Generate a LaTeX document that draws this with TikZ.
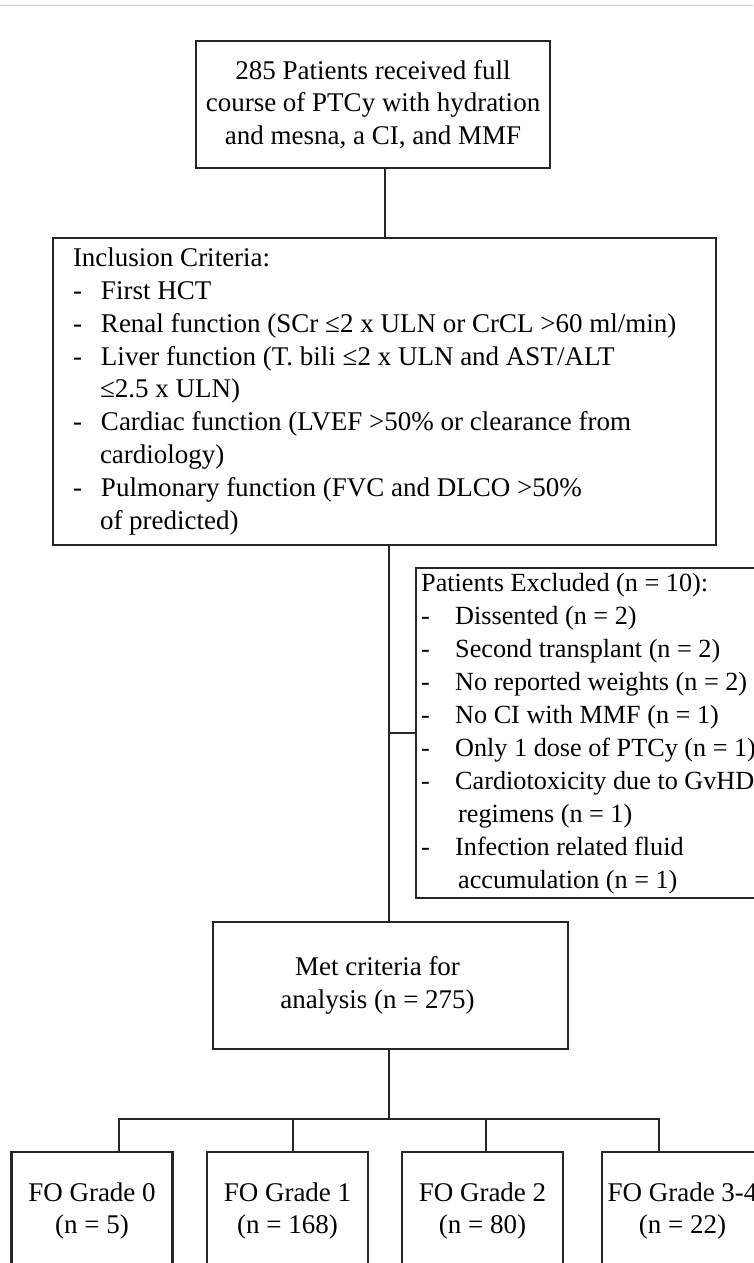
\documentclass[tikz,border=0pt]{standalone}
\usepackage{fontspec}
\setmainfont{Liberation Serif}
\definecolor{linec}{HTML}{262626}
\newcommand\bodyfont{\fontsize{27}{32.8}\selectfont}
\newcommand\exfont{\fontsize{26.2}{33}\selectfont}
\newcommand\ib{\makebox[28pt][l]{-}}
\newcommand\ic{\hspace*{27pt}}
\newcommand\eb{\makebox[34pt][l]{-}}
\newcommand\ec{\hspace*{37pt}}
\newcommand\normsp{\spaceskip=0pt\xspaceskip=0pt\rightskip=0pt plus 1fil}
\begin{document}
\begin{tikzpicture}[x=1pt,y=-1pt,
  box/.style={draw=linec, line width=2.4pt, inner sep=0pt, font=\bodyfont, text=black},
  conn/.style={draw=linec, line width=2.4pt},
  grade/.style={box, minimum width=161pt, minimum height=118pt, align=center}
]
\useasboundingbox (0,0) rectangle (753,1263);
\fill[white] (0,0) rectangle (753,1263);
\draw[black!20, line width=1pt] (0,6) -- (753,6);

\node[box, minimum width=354pt, minimum height=127pt, align=center] (top) at (373,104.5)
  {285 Patients received full\\course of PTCy with hydration\\and mesna, a CI, and MMF};

\node[box, minimum width=663pt, minimum height=307pt, text width=623pt, inner xsep=20pt, align=left] (incl) at (384.5,391.5)
  {\normsp Inclusion Criteria:\\
   \ib First HCT\\
   \ib Renal function (SCr ≤2 x ULN or CrCL >60 ml/min)\\
   \ib Liver function (T. bili ≤2 x ULN and AST/ALT\\
   \ic ≤2.5 x ULN)\\
   \ib Cardiac function (LVEF >50\% or clearance from\\
   \ic cardiology)\\
   \ib Pulmonary function (FVC and DLCO >50\%\\
   \ic of predicted)};

\node[box, font=\exfont, anchor=north west, minimum width=360pt, minimum height=330pt, text width=350pt, inner xsep=5pt, align=left] (excl) at (415,567)
  {\normsp Patients Excluded (n = 10):\\
   \eb Dissented (n = 2)\\
   \eb Second transplant (n = 2)\\
   \eb No reported weights (n = 2)\\
   \eb No CI with MMF (n = 1)\\
   \eb Only 1 dose of PTCy (n = 1)\\
   \eb Cardiotoxicity due to GvHD\\
   \ec regimens (n = 1)\\
   \eb Infection related fluid\\
   \ec accumulation (n = 1)};

\node[box, minimum width=355pt, minimum height=127pt] (met) at (390.5,985.5)
  {\begin{tabular}{@{}c@{\hspace{26pt}}}Met criteria for\\analysis (n = 275)\end{tabular}};

\node[grade] (g0) at (92,1211) {FO Grade 0\\(n = 5)};
\node[grade] (g1) at (287.5,1211) {FO Grade 1\\(n = 168)};
\node[grade] (g2) at (482.5,1211) {FO Grade 2\\(n = 80)};
\node[grade] (g3) at (682.5,1211) {FO Grade 3-4\\(n = 22)};

\coordinate (c1) at (385,0);
\coordinate (c2) at (389,0);
\coordinate (bar) at (389,1119);
\coordinate (b0) at (119,1119);
\coordinate (b1) at (293,1119);
\coordinate (b2) at (486,1119);
\coordinate (b3) at (659,1119);

\draw[conn] (top.south -| c1) -- (incl.north -| c1);
\draw[conn] (incl.south -| c2) -- (met.north -| c2);
\draw[conn] (excl.west) -- (excl.west -| c2);
\draw[conn] (met.south -| c2) -- (bar);
\draw[conn] (g0.north -| b0) -- (b0) -- (b3) -- (g3.north -| b3);
\draw[conn] (b1) -- (g1.north -| b1);
\draw[conn] (b2) -- (g2.north -| b2);
\end{tikzpicture}
\end{document}
